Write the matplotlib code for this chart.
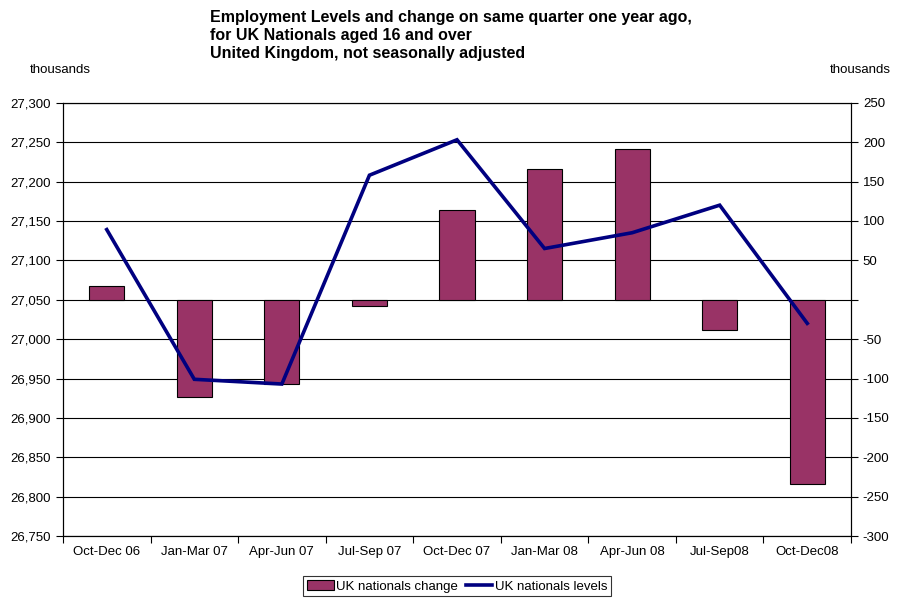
import matplotlib
matplotlib.use("Agg")
import matplotlib.pyplot as plt
from matplotlib.ticker import FuncFormatter, FixedLocator
from matplotlib.patches import Patch
from matplotlib.lines import Line2D

plt.rcParams['font.family'] = ['Liberation Sans', 'DejaVu Sans']

# quarters and values (thousands)
quarters = ["Oct-Dec 06", "Jan-Mar 07", "Apr-Jun 07", "Jul-Sep 07", "Oct-Dec 07",
            "Jan-Mar 08", "Apr-Jun 08", "Jul-Sep08", "Oct-Dec08"]
change = [17, -124, -107, -8, 114, 166, 191, -38, -234]
levels = [27139, 26949, 26943, 27208, 27253, 27115, 27135, 27170, 27020]

bar_col = "#993366"
line_col = "#000080"

fig = plt.figure(figsize=(9.02, 5.99), dpi=100)
ax = fig.add_axes([0.0698, 0.105, 0.8737, 0.7235])   # bars, right scale
ax2 = ax.twinx()                                      # line, left scale

x = list(range(len(quarters)))

# bars on right-hand scale
ax.bar(x, change, width=0.4, color=bar_col, edgecolor="black", linewidth=0.8, zorder=3)
ax.set_ylim(-300, 250)
ax.set_yticks(range(-300, 251, 50))
ax.yaxis.tick_right()
ax.yaxis.set_major_formatter(FuncFormatter(lambda v, p: "" if v == 0 else f"{int(v)}"))
ax.grid(axis="y", color="black", linewidth=0.8, zorder=0)
ax.set_axisbelow(True)

# line on left-hand scale
ax2.plot(x, levels, color=line_col, linewidth=2.6, solid_joinstyle="miter", zorder=4)
ax2.set_ylim(26750, 27300)
ax2.set_yticks(range(26750, 27301, 50))
ax2.yaxis.tick_left()
ax2.yaxis.set_major_formatter(FuncFormatter(lambda v, p: f"{int(v):,}"))

# x axis: ticks between categories, labels at centres
ax.set_xlim(-0.5, len(quarters) - 0.5)
ax.xaxis.set_major_locator(FixedLocator([i - 0.5 for i in range(len(quarters) + 1)]))
ax.xaxis.set_major_formatter(FuncFormatter(lambda v, p: ""))
ax.xaxis.set_minor_locator(FixedLocator(x))
ax.set_xticklabels(quarters, minor=True)
ax.tick_params(axis="x", which="minor", length=0, labelsize=9.5, pad=7)
ax.tick_params(axis="x", which="major", length=5, direction="out")

for a in (ax, ax2):
    a.tick_params(axis="y", labelsize=9.5, length=5, direction="out", width=0.8)
    for s in a.spines.values():
        s.set_color("black")
        s.set_linewidth(0.8)

fig.text(0.233, 0.983, "Employment Levels and change on same quarter one year ago,\n"
         "for UK Nationals aged 16 and over\nUnited Kingdom, not seasonally adjusted",
         fontsize=11.5, fontweight="bold", ha="left", va="top", linespacing=1.25)
fig.text(0.033, 0.883, "thousands", fontsize=9.5, ha="left", va="center")
fig.text(0.988, 0.883, "thousands", fontsize=9.5, ha="right", va="center")

handles = [Patch(facecolor=bar_col, edgecolor="black", linewidth=0.8),
           Line2D([], [], color=line_col, linewidth=2.6)]
leg = fig.legend(handles, ["UK nationals change", "UK nationals levels"],
                 loc="center", bbox_to_anchor=(0.507, 0.021), ncol=2, fontsize=9.5,
                 frameon=True, fancybox=False, borderpad=0.3, handlelength=2.0,
                 handletextpad=0.2, columnspacing=0.6, borderaxespad=0)
leg.get_frame().set_edgecolor("black")
leg.get_frame().set_linewidth(0.8)

fig.savefig("out.png", dpi=100)
